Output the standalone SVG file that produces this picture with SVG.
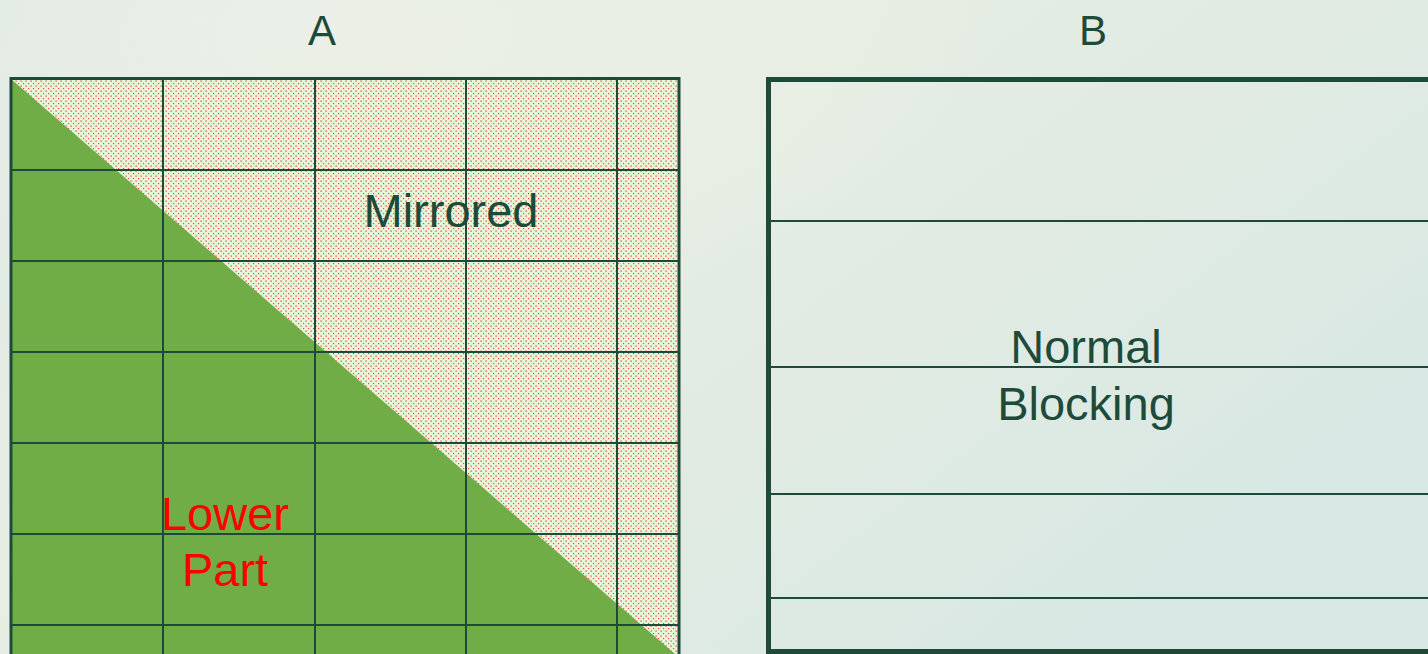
<svg xmlns="http://www.w3.org/2000/svg" width="1428" height="654" viewBox="0 0 1428 654">
<defs>
<linearGradient id="bg" x1="0" y1="0" x2="1" y2="0.6">
<stop offset="0" stop-color="#dfe9e5"/>
<stop offset="0.4" stop-color="#e7eee3"/>
<stop offset="0.75" stop-color="#dfeae3"/>
<stop offset="1" stop-color="#d9e8e4"/>
</linearGradient>
<radialGradient id="glow" cx="0.25" cy="0.05" r="0.45">
<stop offset="0" stop-color="#eef1e8" stop-opacity="0.8"/>
<stop offset="1" stop-color="#eef1e8" stop-opacity="0"/>
</radialGradient>
<pattern id="dots" width="5" height="5" patternUnits="userSpaceOnUse">
<rect width="5" height="5" fill="#e2f9da"/>
<rect x="0.4" y="0.4" width="1.4" height="1.4" fill="#f79090"/>
<rect x="0.7" y="0.7" width="0.8" height="0.8" fill="#ff1a1a"/>
<rect x="2.9" y="2.9" width="1.4" height="1.4" fill="#f79090"/>
<rect x="3.2" y="3.2" width="0.8" height="0.8" fill="#ff1a1a"/>
</pattern>
<style>
.grid{stroke:#1e4a3a;stroke-width:2;fill:none}
.lbl{font-family:"Liberation Sans",Arial,sans-serif;text-anchor:middle;fill:#1e4a3a}
.big{font-size:47px}
.red{fill:#ff0000}
</style>
</defs>
<rect width="1428" height="654" fill="url(#bg)"/>
<rect width="1428" height="654" fill="url(#glow)"/>
<g id="title-A"><text class="lbl" x="322" y="45" font-size="42">A</text></g>
<g id="title-B"><text class="lbl" x="1093" y="45" font-size="42">B</text></g>
<g id="matrix-A">
<rect x="11" y="79" width="668" height="640" fill="url(#dots)"/>
<polygon points="11,79 675,654 11,654" fill="#70ad47"/>
<g class="grid">
<line x1="163" y1="79" x2="163" y2="654"/>
<line x1="315" y1="79" x2="315" y2="654"/>
<line x1="466" y1="79" x2="466" y2="654"/>
<line x1="617" y1="79" x2="617" y2="654"/>
<line x1="11" y1="170" x2="679" y2="170"/>
<line x1="11" y1="261" x2="679" y2="261"/>
<line x1="11" y1="352" x2="679" y2="352"/>
<line x1="11" y1="443" x2="679" y2="443"/>
<line x1="11" y1="534" x2="679" y2="534"/>
<line x1="11" y1="625" x2="679" y2="625"/>
<path d="M11,660 V78.5 H679 V660" stroke-width="3"/>
</g>
<text class="lbl big" x="451" y="227">Mirrored</text>
<text class="lbl big red" x="225" y="530">Lower</text>
<text class="lbl big red" x="225" y="586">Part</text>
</g>
<g id="matrix-B">
<g class="grid">
<line x1="770" y1="221" x2="1430" y2="221"/>
<line x1="770" y1="367" x2="1430" y2="367"/>
<line x1="770" y1="494" x2="1430" y2="494"/>
<line x1="770" y1="598" x2="1430" y2="598"/>
<path d="M1432,79.5 H768.5 V651.5 H1432" stroke-width="5"/>
</g>
<text class="lbl big" x="1086" y="363">Normal</text>
<text class="lbl big" x="1086" y="420">Blocking</text>
</g>
</svg>
